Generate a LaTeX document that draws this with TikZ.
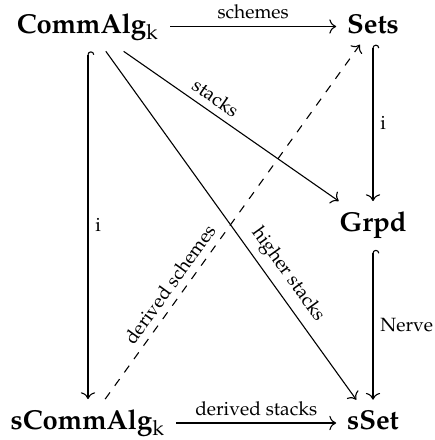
\documentclass[tikz,border=0pt]{standalone}
\usepackage[T1]{fontenc}
\usepackage{mathpazo}
\usepackage{tikz-cd}
\usetikzlibrary{arrows.meta}

\begin{document}
\begin{tikzpicture}[x=0.365pt,y=-0.365pt,
  obj/.style={shape=asymmetrical rectangle, inner sep=3.8pt},
  lbl/.style={font=\scriptsize, inner sep=2.5pt},
  cdarrow/.style={-{Computer Modern Rightarrow}, line width=0.4pt},
  hookarrow/.style={{Hooks[right]}-{Computer Modern Rightarrow}, line width=0.4pt}]
\useasboundingbox (0,0) rectangle (435,440);

% objects
\node[obj] (calg)  at (88,26.5)  {\textbf{CommAlg}$_{\mathrm{k}}$};
\node[obj] (sets)  at (373,26.5) {\textbf{Sets}};
\node[obj] (grpd)  at (373,225)  {\textbf{Grpd}};
\node[obj] (scalg) at (88,423)   {\textbf{sCommAlg}$_{\mathrm{k}}$};
\node[obj] (sset)  at (373,423)  {\textbf{sSet}};

% maps
\draw[cdarrow] (calg) -- node[lbl, above] {schemes} (sets);
\draw[cdarrow] (calg) -- node[lbl, above, sloped, pos=0.39] {stacks} (grpd);
\draw[cdarrow] (calg) -- node[lbl, above, sloped, pos=0.67] {higher stacks} (sset);
\draw[hookarrow] (calg) -- node[lbl, right] {$\mathrm{i}$} (scalg);
\draw[cdarrow, dashed] (scalg) -- node[lbl, above, sloped, pos=0.3] {derived schemes} (sets);
\draw[cdarrow] (scalg) -- node[lbl, above] {derived stacks} (sset);
\draw[hookarrow] (sets) -- node[lbl, right] {$\mathrm{i}$} (grpd);
\draw[hookarrow] (grpd) -- node[lbl, right] {Nerve} (sset);
\end{tikzpicture}
\end{document}
